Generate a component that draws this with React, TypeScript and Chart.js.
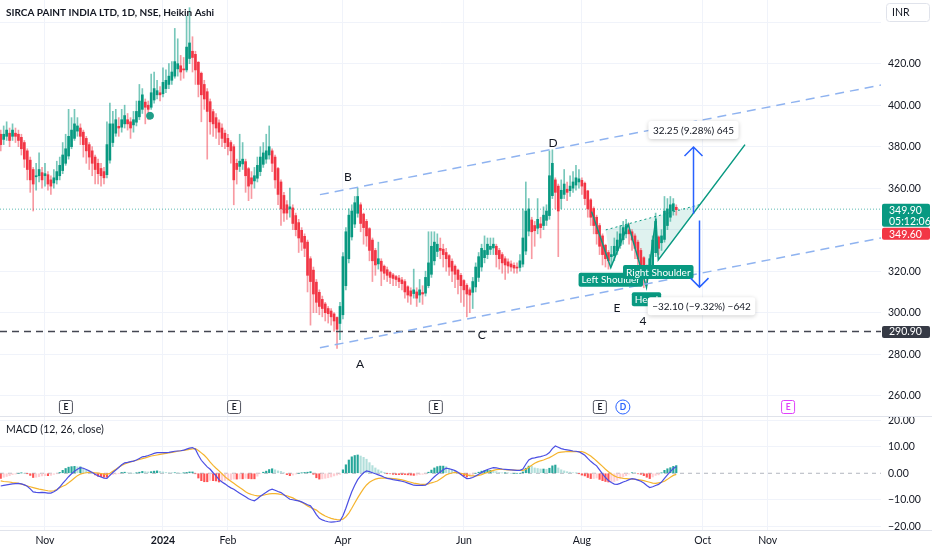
import React, { useEffect, useRef } from 'react';
import { Chart, registerables } from 'chart.js';

Chart.register(...registerables);

// ---------- Heikin Ashi candles (one per trading day, bar index 0 = 10 Oct 2023) ----------
const haOpen = [386,383.5,385,386.5,385,386.5,386,384.5,382,378,373.5,369,365.5,366,367.5,366,366.5,364,362.5,364,366,368.5,372,375.5,380,384,387.5,389,387,384,381,378,375,372,369.5,368,366.5,373.5,382,386.5,389.8,389.4,391,393,392,390.5,391.8,394.4,398,401.5,400,399,402.5,405,406,405.5,408,410,412,414,417.5,419,417.5,417,422.5,426,424.5,420.7,415.4,410,406.5,401.7,396.9,394,391.5,389,386.5,384,382,380,372,370.5,371.7,372.8,369.4,365,363.5,364.8,368,371.5,374,376,378,375,369.5,363,356.5,352,350,350.5,346.8,343.4,339.7,336.8,334,326,320.5,314.7,309.8,306.4,304.2,302,300.8,299.4,297.7,294.8,299,313,326,336.5,342.7,347.9,352,347.5,344,340.5,335,330,323.5,324.8,322.4,320.7,319.4,318.2,317.4,316.7,315.8,315,312.5,310.5,309.2,310,308.5,309.7,309.4,313,318.5,325,329.5,331,330.6,329,327.5,324.8,322.4,320.5,318,315.5,313.2,311,309.8,312.4,317,322,326.5,328,330.5,331.2,332,330,328,326,324.5,323.5,322.8,322,321.8,323.4,329.7,339.3,344.7,342,340.7,342.8,342,344.5,346.8,356.4,364,361,355,357,359.5,358.8,360,361.5,363,363.8,362.4,358.7,354.4,350.2,346,342,337,332.5,329,327,327.5,329.8,332.4,335.2,338,340,339,337,334,330,326.5,322,319.5,322.7,328.9,336.5,333.7,335.3,342,346,349,350.8];
const haClose = [381,386,388,383,388,385,383,379,374,369,364,362,366,369,364,367,362,361,365,368,371,376,379,385,388,391,390,385,381,378,375,372,369,367,366,365,381,391,391,393,389,393,395,391,389,393,397,402,405,399,398,406,408,407,405,411,412,414,416,421,420,416,417,428,430,423,417,410,405,403,397,392,391,389,387,384,382,380,378,364,369,373,374,366,361,362,366,371,375,377,378,380,372,364,357,350,348,348,351,343,340,336,334,331,318,315,309,305,303,302,300,299.5,298,296,292,303,327,339,347,349,353,356,343,341,337,330,325,323,326,320,319,318,317,316.5,316,315,314,310,308.5,308,311,307,311,309,317,324,332,334,333,330,328,326,322,320,318.5,316,313,311,309,308.5,315,322,327,331,330,333,332,333,328,326,324,323,322.5,322,321.5,321.5,325,336,349,350,339,339.5,345,341,347,349,366,372,358,349,359,362,358,361,363,365,364.5,361,355,350,346,342,338,332,328,326,325,328,332,335,338,341,342,338,335,331,326,323,318,317,326,335,344,331,337,349,350,352,352.5,349.6];
const haHigh = [388,390,392,389,391,389,388,386,383,379,375,370,372,377,370,372,368,366,369,373,375,382,386,398,394,398,394,391,388,385,382,380,376,374,372,370,392,401,397,398,394,398,400,396,394,397,402,410,408,403,402,415,416,412,409,418,417,420,421,437,432,424,423,443,447,433,426,421,416,412,408,403,398,396,393,391,388,386,383,381,374,386,382,374,370,368,370,375,380,382,386,390,379,376,370,364,358,354,360,352,348,345,341,338,335,327,322,316,311,308,305,303,302,300,298,305,329,341,350,352,356,360,353,348,345,341,336,331,334,326,323,322,320,319,318,318,317,316,313,312,321,312,316,313,320,339,339,339,338,336,333,331,328,326,323,321,319,316,314,312,317,324,329,333,337,336,336,336,333,331,329,327,326,325,324,324,328,350,363,355,346,344,355,346,351,352,378,378.5,365,362,364,369,363,366,368,371,369,365,363,359,355,351,347,343,338,333,330,332,336,339,342,344,345,343,340,338,335,331,327,323,328,337,348,337,340,356,355,356,355,352];
const haLow = [378,381,383,380,383,382,380,376,370,364,358,349,359,363,360,361,359,357,360,362,364,367,371,374,379,383,385,381,375,372,369,366,362,362,361,362,365,372,380,385,385,387,389,388,384,387,390,393,396,391,393,398,401,403,402,404,406,408,410,413,414,412,413,416,420,416,410,404,392,398,374,386,385,384,381,380,379,376,372,352,362,368,369,358,354,355,360,363,366,370,372,374,368,360,352,342,344,345,346,340,337,329,330,327,310,294,300,300,299,298,296,295,294,291,282.8,287,297,311,324,335,341,346,339,333,332,325,315,318,321,313,316,315,314,313,313,312,311,307,305,304,307,303,305,304,308,312,317,323,327,326,322,320,318,315,312,309,305,303,298,300,302,310,315,320,324,326,328,328,322,321,319,316,319,320,319,319,320,322,328,337,326,332,338,336,340,342,345,355,350,327,350,355,354,356,358,359,360,357,352,346,342,338,333,328,323,322,321,323,325,328,331,333,336,333,330,326,320,318,312,313,317,321,327,328,330,334,340,344,347,347];

// ---------- MACD (12, 26, close) ----------
const macdLine = [-4.8,-4.6,-4.4,-4.2,-4.0,-3.9,-3.8,-4.0,-4.4,-4.9,-5.9,-7.0,-7.2,-7.3,-7.2,-7.3,-7.5,-7.5,-7.0,-6.3,-5.2,-3.8,-2.6,-1.3,-0.2,0.8,1.5,2.1,1.9,1.4,0.9,0.3,-0.4,-1.0,-1.4,-1.8,-1.9,-0.8,0.3,1.2,2.2,3.2,3.9,4.1,4.4,4.6,5.0,5.6,6.2,6.4,6.7,7.1,7.5,7.8,7.8,7.8,7.8,7.9,8.1,8.3,8.4,8.5,8.7,9.1,9.5,9.7,9.1,6.8,4.9,3.6,2.4,1.5,0.2,-1.0,-2.4,-3.3,-4.0,-4.8,-5.5,-6.0,-6.8,-7.5,-8.2,-8.9,-9.6,-10.1,-10.4,-9.6,-8.7,-7.9,-7.2,-6.4,-6.0,-6.4,-6.9,-7.3,-8.1,-9.0,-9.8,-10.0,-10.2,-10.4,-10.8,-11.3,-11.9,-12.3,-13.8,-15.6,-17.0,-17.6,-18.0,-18.3,-18.4,-18.3,-18.2,-18.0,-16.0,-13.2,-10.0,-7.0,-4.5,-2.4,-1.0,0.2,0.9,0.6,0.2,-0.2,-0.6,-1.0,-1.5,-1.9,-2.1,-2.4,-2.6,-2.8,-3.0,-3.3,-3.7,-4.1,-4.5,-4.6,-4.6,-4.6,-4.5,-3.6,-2.4,-1.3,-0.4,0.5,1.3,1.9,1.7,1.4,1.0,0.4,-0.5,-1.3,-2.0,-1.9,-1.6,-1.0,-0.4,0.3,0.9,1.4,1.8,2.1,2.0,1.8,1.6,1.5,1.4,1.3,1.2,1.1,1.1,1.6,3.4,5.0,5.6,5.8,6.1,6.3,6.6,7.0,7.8,9.3,10.3,9.8,9.3,9.0,8.8,8.6,8.4,8.3,8.1,7.5,6.8,5.6,4.5,3.6,2.8,1.3,-0.2,-1.6,-2.7,-3.5,-4.1,-4.2,-3.8,-3.3,-2.9,-2.4,-2.0,-2.2,-2.6,-3.0,-3.7,-4.6,-5.4,-5.1,-4.6,-4.2,-3.3,-1.9,-0.6,0.6,1.8,2.5];
const signalLine = [-2.9,-3.1,-3.2,-3.3,-3.5,-3.6,-3.8,-4.1,-4.4,-4.8,-5.1,-5.4,-5.7,-6.0,-6.2,-6.4,-6.6,-6.7,-6.6,-6.1,-5.5,-4.9,-4.4,-3.6,-2.7,-1.8,-0.9,-0.3,0.0,0.2,0.3,0.3,0.2,0.1,-0.1,-0.3,-0.4,0.0,0.8,1.5,2.3,2.9,3.5,3.9,4.3,4.6,4.9,5.2,5.5,5.8,6.2,6.5,6.7,6.9,7.1,7.3,7.5,7.7,7.9,8.1,8.3,8.5,8.6,8.8,9.0,9.2,9.3,8.6,7.7,6.8,5.6,4.2,3.0,1.9,0.9,-0.2,-1.3,-2.2,-3.0,-3.8,-4.6,-5.4,-6.1,-7.0,-7.6,-8.0,-8.3,-8.5,-8.5,-8.3,-8.0,-7.8,-7.7,-7.7,-7.8,-8.0,-8.2,-8.5,-8.9,-9.3,-9.9,-10.4,-10.9,-11.6,-12.3,-12.9,-13.4,-13.9,-14.8,-15.5,-16.1,-16.6,-17.0,-17.3,-17.5,-17.6,-17.3,-16.4,-15.0,-13.2,-11.2,-9.3,-7.5,-5.8,-4.4,-3.4,-2.7,-2.2,-1.9,-1.8,-1.8,-1.8,-1.9,-2.0,-2.1,-2.3,-2.5,-2.8,-3.1,-3.4,-3.7,-3.9,-4.1,-4.2,-4.2,-4.0,-3.6,-3.3,-2.9,-2.2,-1.4,-0.6,-0.2,0.1,0.3,0.2,0.0,-0.3,-0.6,-0.9,-1.0,-1.0,-0.8,-0.5,-0.1,0.3,0.7,1.1,1.4,1.5,1.5,1.4,1.3,1.3,1.2,1.1,1.1,1.1,1.5,2.3,3.0,3.8,4.3,4.7,5.0,5.5,5.9,6.5,7.2,7.8,8.0,8.1,8.2,8.2,8.2,8.2,8.2,8.2,7.8,7.2,6.5,5.6,4.6,3.6,2.6,1.5,0.6,-0.3,-1.0,-1.5,-1.7,-1.9,-2.0,-2.1,-2.2,-2.3,-2.4,-2.6,-2.8,-3.1,-3.4,-3.7,-3.8,-3.6,-3.4,-3.0,-2.3,-1.5,-0.8,-0.4];

// ---------- axes ----------
const monthTicks = [15, 55, 77, 116, 157, 197, 238, 260];
const monthLabels = ['Nov', '2024', 'Feb', 'Apr', 'Jun', 'Aug', 'Oct', 'Nov'];
const priceGrid = [260, 280, 300, 320, 340, 360, 380, 400, 420, 440];
const priceLabels = [260, 280, 300, 320, 360, 380, 400, 420];
const macdTicks = [-20, -10, 0, 10, 20];

// ---------- drawings ----------
const upperChannel = [{ x: 108.2, y: 356.9 }, { x: 298.4, y: 409.7 }];
const lowerChannel = [{ x: 108.2, y: 283.1 }, { x: 298.4, y: 336.0 }];
const supportLevel = 290.9;
const lastPrice = 349.9;
const lastHaClose = 349.6;
const countdown = '05:12:06';
const patternLine = [
  { x: 200.3, y: 348.7 }, { x: 206.8, y: 321.7 }, { x: 212.7, y: 342.6 }, { x: 218.9, y: 312.2 },
  { x: 222.1, y: 345.4 }, { x: 222.9, y: 325.4 }, { x: 252.3, y: 381.0 },
];
const neckline = [{ x: 205.1, y: 339.9 }, { x: 237.0, y: 352.1 }];
const patternLabels = [
  { t: 'Left Shoulder', x: 206.8, y: 321.7 },
  { t: 'Right Shoulder', x: 222.9, y: 325.4 },
  { t: 'Head', x: 218.9, y: 312.2 },
];
const letterMarks = [
  { t: 'B', x: 117.7, y: 365.5 }, { t: 'A', x: 121.8, y: 275.4 }, { t: 'C', x: 163.1, y: 289.4 },
  { t: 'D', x: 187.2, y: 381.9 }, { t: 'E', x: 208.9, y: 302.4 }, { t: '4', x: 217.7, y: 295.7 },
];
const measures = [
  { x: 234.7, from: 347.6, to: 379.85, t: '32.25 (9.28%) 645', dx: 0 },
  { x: 236.7, from: 344.4, to: 312.3, t: '\u221232.10 (\u22129.32%) \u2212642', dx: 2 },
];
const events = [
  { x: 22.1, t: 'E', c: '#50535e', shape: 'box' },
  { x: 79.1, t: 'E', c: '#50535e', shape: 'box' },
  { x: 147.5, t: 'E', c: '#50535e', shape: 'box' },
  { x: 203.1, t: 'E', c: '#50535e', shape: 'box' },
  { x: 210.9, t: 'D', c: '#2962ff', shape: 'circle' },
  { x: 266.9, t: 'E', c: '#e040fb', shape: 'box' },
];
const dividendDot = [{ x: 50.6, y: 394.9 }];

const TITLE = 'SIRCA PAINT INDIA LTD, 1D, NSE, Heikin Ashi';
const FONT = 'Lato, "Liberation Sans", Arial, sans-serif';
const X_MIN = -0.25;
const X_MAX = 298.4;
const UP = '#089981';
const DOWN = '#f23645';
const GRID = '#f0f3fa';
const TEXT = '#131722';

function rr(ctx: CanvasRenderingContext2D, x: number, y: number, w: number, h: number, r: number) {
  ctx.beginPath();
  ctx.moveTo(x + r, y);
  ctx.arcTo(x + w, y, x + w, y + h, r);
  ctx.arcTo(x + w, y + h, x, y + h, r);
  ctx.arcTo(x, y + h, x, y, r);
  ctx.arcTo(x, y, x + w, y, r);
  ctx.closePath();
}

const mainOverlay = {
  id: 'mainOverlay',
  beforeDatasetsDraw(chart: any) {
    const { ctx } = chart;
    const xs = chart.scales.x, ys = chart.scales.y;
    const poly = [neckline[0], neckline[1], patternLine[5], patternLine[4], patternLine[3], patternLine[2], patternLine[1]];
    ctx.save();
    ctx.beginPath();
    poly.forEach((p, i) => {
      const X = xs.getPixelForValue(p.x), Y = ys.getPixelForValue(p.y);
      if (i) ctx.lineTo(X, Y); else ctx.moveTo(X, Y);
    });
    ctx.closePath();
    ctx.fillStyle = 'rgba(8,153,129,0.13)';
    ctx.fill();
    ctx.restore();
  },
  afterDraw(chart: any) {
    const { ctx, chartArea } = chart;
    const xs = chart.scales.x, ys = chart.scales.y;
    const px = (v: number) => xs.getPixelForValue(v);
    const py = (v: number) => ys.getPixelForValue(v);
    ctx.save();
    ctx.textBaseline = 'middle';

    // title
    ctx.font = `bold 10px ${FONT}`;
    ctx.fillStyle = TEXT;
    ctx.textAlign = 'left';
    ctx.fillText(TITLE, 6, 13);

    // wave letters
    ctx.font = `12px ${FONT}`;
    ctx.textAlign = 'center';
    ctx.fillStyle = TEXT;
    letterMarks.forEach((m) => ctx.fillText(m.t, px(m.x), py(m.y)));

    // pattern labels
    ctx.font = `10px ${FONT}`;
    patternLabels.forEach((l) => {
      const w = ctx.measureText(l.t).width + 6;
      const cx = px(l.x);
      const top = py(l.y) + 5;
      rr(ctx, cx - w / 2, top, w, 14, 2);
      ctx.fillStyle = UP;
      ctx.fill();
      ctx.fillStyle = '#ffffff';
      ctx.fillText(l.t, cx, top + 7.5);
    });

    // measurement arrows
    measures.forEach((m) => {
      const X = Math.round(px(m.x)) + 0.5;
      const y0 = py(m.from), y1 = py(m.to);
      const dir = y1 < y0 ? 1 : -1;
      ctx.strokeStyle = '#2962ff';
      ctx.lineWidth = 1.5;
      ctx.beginPath();
      ctx.moveTo(X, y0);
      ctx.lineTo(X, y1);
      ctx.moveTo(X - 9, y1 + 9 * dir);
      ctx.lineTo(X, y1);
      ctx.lineTo(X + 9, y1 + 9 * dir);
      ctx.stroke();
      ctx.font = `10px ${FONT}`;
      const w = ctx.measureText(m.t).width + 9;
      const h = 18;
      const by = dir === 1 ? y1 - 8 - h : y1 + 10;
      ctx.save();
      ctx.shadowColor = 'rgba(0,0,0,0.2)';
      ctx.shadowBlur = 4;
      ctx.shadowOffsetY = 1;
      rr(ctx, X + m.dx - w / 2, by, w, h, 3);
      ctx.fillStyle = '#ffffff';
      ctx.fill();
      ctx.restore();
      ctx.fillStyle = TEXT;
      ctx.textAlign = 'center';
      ctx.fillText(m.t, X + m.dx, by + h / 2 + 0.5);
    });

    // event markers
    const ey = chartArea.bottom - 9;
    events.forEach((e) => {
      const X = px(e.x);
      ctx.lineWidth = 1;
      ctx.strokeStyle = e.c;
      ctx.fillStyle = '#ffffff';
      if (e.shape === 'circle') {
        ctx.beginPath();
        ctx.arc(X, ey, 7, 0, Math.PI * 2);
        ctx.fill();
        ctx.stroke();
      } else {
        rr(ctx, X - 6.5, ey - 6.5, 13, 13, 2);
        ctx.fill();
        ctx.stroke();
      }
      ctx.fillStyle = e.c === '#50535e' ? TEXT : e.c;
      ctx.font = `bold 8.5px ${FONT}`;
      ctx.textAlign = 'center';
      ctx.fillText(e.t, X, ey + 0.5);
    });

    // price scale labels
    const ax = chartArea.right + 1;
    const aw = chart.width - ax - 2;
    ctx.font = `10.5px ${FONT}`;
    ctx.textAlign = 'left';
    const gy = py(lastPrice) - 5.5;
    rr(ctx, ax, gy, aw, 23, 2);
    ctx.fillStyle = UP;
    ctx.fill();
    ctx.fillStyle = '#ffffff';
    ctx.fillText(lastPrice.toFixed(2), ax + 7, gy + 7);
    ctx.fillText(countdown, ax + 7, gy + 17.5);
    rr(ctx, ax, gy + 24, aw, 12, 2);
    ctx.fillStyle = DOWN;
    ctx.fill();
    ctx.fillStyle = '#ffffff';
    ctx.fillText(lastHaClose.toFixed(2), ax + 7, gy + 30.5);
    const sy = py(supportLevel);
    rr(ctx, ax, sy - 5.5, aw, 12, 2);
    ctx.fillStyle = '#363a45';
    ctx.fill();
    ctx.fillStyle = '#ffffff';
    ctx.fillText(supportLevel.toFixed(2), ax + 7, sy + 0.5);

    // currency box
    rr(ctx, 886.5, 3.5, 43, 18, 3);
    ctx.fillStyle = '#ffffff';
    ctx.fill();
    ctx.strokeStyle = '#e0e3eb';
    ctx.lineWidth = 1;
    ctx.stroke();
    ctx.fillStyle = TEXT;
    ctx.fillText('INR', 892, 13);
    ctx.restore();
  },
};

const macdOverlay = {
  id: 'macdOverlay',
  afterDraw(chart: any) {
    const { ctx, chartArea } = chart;
    ctx.save();
    ctx.strokeStyle = '#e0e3eb';
    ctx.lineWidth = 1;
    ctx.beginPath();
    ctx.moveTo(0, 0.5);
    ctx.lineTo(chart.width, 0.5);
    ctx.moveTo(0, chartArea.bottom + 0.5);
    ctx.lineTo(chart.width, chartArea.bottom + 0.5);
    ctx.stroke();
    ctx.font = `10.5px ${FONT}`;
    ctx.fillStyle = TEXT;
    ctx.textAlign = 'left';
    ctx.textBaseline = 'middle';
    ctx.fillText('MACD (12, 26, close)', 6, 14);
    ctx.restore();
  },
};

function hline(v: number) {
  return [{ x: X_MIN, y: v }, { x: X_MAX, y: v }];
}

export default function App() {
  const mainRef = useRef<HTMLCanvasElement>(null);
  const macdRef = useRef<HTMLCanvasElement>(null);

  useEffect(() => {
    document.body.style.margin = '0';
    document.body.style.background = '#ffffff';

    const isUp = haClose.map((c, i) => c >= haOpen[i]);
    const bodyData = haOpen.map((o, i) => ({ x: i, y: [o, haClose[i]] }));
    const wickData = haLow.map((l, i) => ({ x: i, y: [l, haHigh[i]] }));
    const bodyColors = isUp.map((u) => (u ? UP : DOWN));
    const wickColors = isUp.map((u) => (u ? 'rgba(8,153,129,0.55)' : 'rgba(242,54,69,0.5)'));

    const main = new Chart(mainRef.current as HTMLCanvasElement, {
      type: 'bar',
      data: {
        datasets: [
          { type: 'line', data: upperChannel, borderColor: '#8fb3f0', borderWidth: 1.5, borderDash: [9, 6], pointRadius: 0, order: 0 } as any,
          { type: 'line', data: lowerChannel, borderColor: '#8fb3f0', borderWidth: 1.5, borderDash: [9, 6], pointRadius: 0, order: 0 } as any,
          { type: 'line', data: hline(supportLevel), borderColor: '#434651', borderWidth: 1.5, borderDash: [7, 5], pointRadius: 0, order: 0 } as any,
          { type: 'line', data: hline(lastPrice), borderColor: 'rgba(38,166,154,0.75)', borderWidth: 1, borderDash: [1, 2], pointRadius: 0, order: 3 } as any,
          { type: 'line', data: patternLine, borderColor: UP, borderWidth: 1.5, pointRadius: 0, order: 0 } as any,
          { type: 'line', data: neckline, borderColor: UP, borderWidth: 1, borderDash: [2, 3], pointRadius: 0, order: 0 } as any,
          { type: 'line', data: dividendDot, showLine: false, pointRadius: 3.5, pointHoverRadius: 0, pointBackgroundColor: '#1f9e88', pointBorderColor: '#1f9e88', order: 0 } as any,
          { type: 'bar', data: wickData, backgroundColor: wickColors, barThickness: 1, grouped: false, order: 2 } as any,
          { type: 'bar', data: bodyData, backgroundColor: bodyColors, barThickness: 2, grouped: false, order: 1 } as any,
        ],
      },
      options: {
        animation: false,
        responsive: false,
        maintainAspectRatio: false,
        layout: { padding: 0, autoPadding: false },
        plugins: { legend: { display: false }, tooltip: { enabled: false } },
        scales: {
          x: {
            type: 'linear', min: X_MIN, max: X_MAX, offset: false,
            afterBuildTicks: (s: any) => { s.ticks = monthTicks.map((v) => ({ value: v })); },
            afterFit: (s: any) => { s.height = 0; s.paddingLeft = 0; s.paddingRight = 0; },
            ticks: { display: false },
            grid: { color: GRID, drawTicks: false, offset: false },
            border: { display: false },
          },
          y: {
            position: 'right', min: 250.2, max: 450.7,
            afterBuildTicks: (s: any) => { s.ticks = priceGrid.map((v) => ({ value: v })); },
            afterFit: (s: any) => { s.width = 51; s.paddingTop = 0; s.paddingBottom = 0; },
            ticks: {
              padding: 7, color: TEXT, font: { family: FONT, size: 10.5 },
              callback: (v: any) => (priceLabels.includes(Number(v)) ? Number(v).toFixed(2) : ''),
            },
            grid: { color: GRID, drawTicks: false },
            border: { display: false },
          },
        } as any,
      },
      plugins: [mainOverlay],
    } as any);

    const hist = macdLine.map((m, i) => m - signalLine[i]);
    const histColors = hist.map((h, i) => {
      const prev = i > 0 ? hist[i - 1] : h;
      if (h >= 0) return h >= prev ? '#26a69a' : '#b2dfdb';
      return h <= prev ? '#ff5252' : '#ffcdd2';
    });

    const macd = new Chart(macdRef.current as HTMLCanvasElement, {
      type: 'bar',
      data: {
        datasets: [
          { type: 'line', data: macdLine.map((v, i) => ({ x: i, y: v })), borderColor: '#4b4fe3', borderWidth: 1.2, pointRadius: 0, order: 0 } as any,
          { type: 'line', data: signalLine.map((v, i) => ({ x: i, y: v })), borderColor: '#f5b42e', borderWidth: 1.2, pointRadius: 0, order: 1 } as any,
          { type: 'line', data: hline(0), borderColor: '#b2b5be', borderWidth: 1, borderDash: [4, 4], pointRadius: 0, order: 4 } as any,
          { type: 'bar', data: hist.map((v, i) => ({ x: i, y: v })), backgroundColor: histColors, barThickness: 1.5, grouped: false, order: 3 } as any,
        ],
      },
      options: {
        animation: false,
        responsive: false,
        maintainAspectRatio: false,
        layout: { padding: 0, autoPadding: false },
        plugins: { legend: { display: false }, tooltip: { enabled: false } },
        scales: {
          x: {
            type: 'linear', min: X_MIN, max: X_MAX, offset: false,
            afterBuildTicks: (s: any) => { s.ticks = monthTicks.map((v) => ({ value: v })); },
            afterFit: (s: any) => { s.height = 20; s.paddingLeft = 0; s.paddingRight = 0; },
            ticks: {
              autoSkip: false, maxRotation: 0, padding: 4, color: TEXT,
              font: (c: any) => ({ family: FONT, size: 10.5, weight: c.index === 1 ? 'bold' : 'normal' }),
              callback: (_v: any, i: number) => monthLabels[i],
            },
            grid: { color: GRID, drawTicks: false, offset: false },
            border: { display: false },
          },
          y: {
            position: 'right', min: -21.4, max: 21.6,
            afterBuildTicks: (s: any) => { s.ticks = macdTicks.map((v) => ({ value: v })); },
            afterFit: (s: any) => { s.width = 51; s.paddingTop = 0; s.paddingBottom = 0; },
            ticks: {
              padding: 7, color: TEXT, font: { family: FONT, size: 10.5 },
              callback: (v: any) => (Number(v) < 0 ? '\u2212' : '') + Math.abs(Number(v)).toFixed(2),
            },
            grid: { color: (c: any) => (c.tick && c.tick.value === 0 ? 'rgba(0,0,0,0)' : GRID), drawTicks: false },
            border: { display: false },
          },
        } as any,
      },
      plugins: [macdOverlay],
    } as any);

    return () => {
      main.destroy();
      macd.destroy();
    };
  }, []);

  return (
    <div style={{ width: 932, height: 550, position: 'relative', background: '#ffffff', overflow: 'hidden' }}>
      <canvas ref={mainRef} width={932} height={416} style={{ display: 'block' }} />
      <canvas ref={macdRef} width={932} height={134} style={{ display: 'block' }} />
    </div>
  );
}
